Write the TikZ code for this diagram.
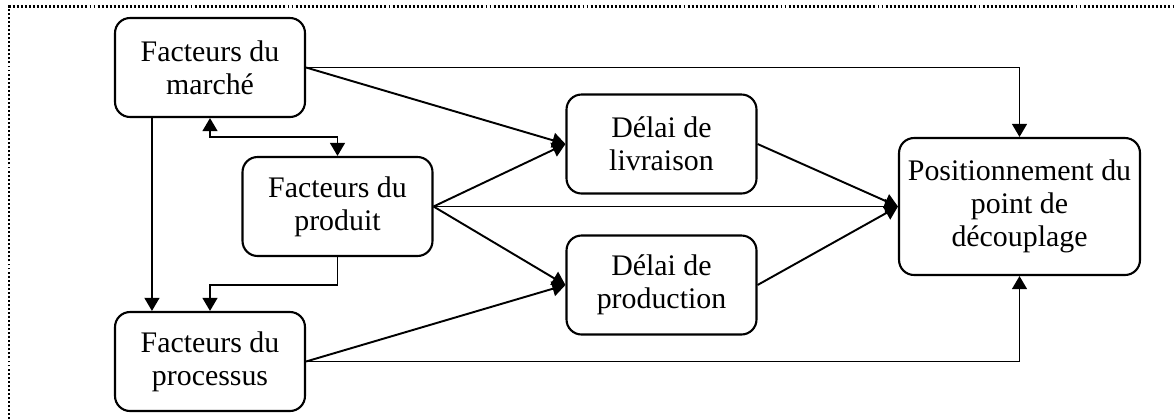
\documentclass[tikz,border=0pt]{standalone}
\usepackage{fontspec}
\setmainfont{Liberation Serif}
\usetikzlibrary{positioning,arrows.meta,calc}
\tikzset{
    factor box/.style={rectangle, rounded corners=0.3cm, draw, line width=1.2pt, align=center, minimum width=3.8cm, minimum height=1.98cm, inner sep=2pt, font=\fontsize{17}{18.8}\selectfont},
    result box/.style={factor box, minimum width=4.82cm, minimum height=2.74cm},
    link arrow/.style={-{Triangle[length=7.5pt, width=8.5pt]}, line width=1.1pt},
    both arrow/.style={{Triangle[length=7.5pt, width=8.5pt]}-{Triangle[length=7.5pt, width=8.5pt]}, line width=1.1pt},
    frame line/.style={line width=1.2pt, dash pattern=on 1.1pt off 1.2pt}
}
\begin{document}
\begin{tikzpicture}[x=0.02cm, y=-0.02cm]
\useasboundingbox (0,0) rectangle (1175,419);
\draw[frame line] (9,419) -- (9,6.5) -- (1175,6.5);

\node[factor box] (marche) at (210,67.5) {Facteurs du\\marché};
\node[factor box] (produit) at (337.5,206.5) {Facteurs du\\produit};
\node[factor box] (processus) at (210,361.5) {Facteurs du\\processus};
\node[factor box] (livraison) at (661.5,144) {Délai de\\livraison};
\node[factor box] (production) at (661.5,285) {Délai de\\production};
\node[result box] (position) at (1019.5,206.5) {Positionnement du\\point de\\découplage};

\draw[link arrow] (marche.east) -| (position.north);
\draw[link arrow] (marche.east) -- (livraison.west);
\draw[link arrow] ([xshift=0.76cm]marche.south west) -- ([xshift=0.76cm]processus.north west);
\draw[both arrow] (marche.south) -- ++(0,19) -| (produit.north);
\draw[link arrow] (produit.east) -- (livraison.west);
\draw[link arrow] (produit.east) -- (position.west);
\draw[link arrow] (produit.east) -- (production.west);
\draw[link arrow] (produit.south) -- ++(0,27.5) -| (processus.north);
\draw[link arrow] (processus.east) -- (production.west);
\draw[link arrow] (processus.east) -| (position.south);
\draw[link arrow] (livraison.east) -- (position.west);
\draw[link arrow] (production.east) -- (position.west);
\end{tikzpicture}
\end{document}
